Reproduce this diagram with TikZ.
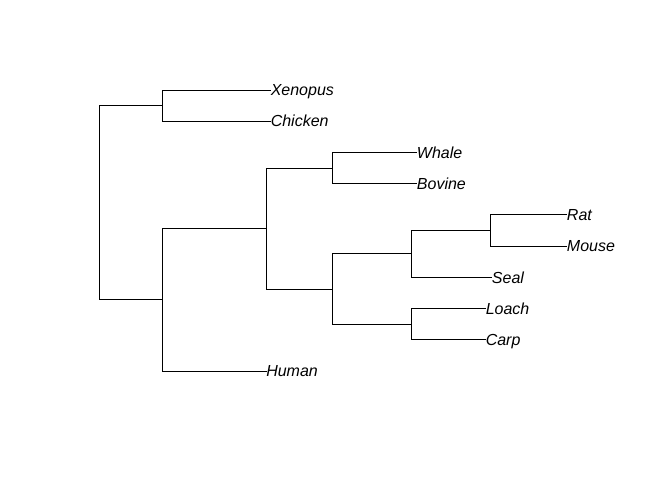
\documentclass[tikz,border=0pt]{standalone}
\usepackage{fontspec}
\setmainfont{Liberation Sans}
\begin{document}
\begin{tikzpicture}[x=0.75pt,y=-0.75pt,
  edge/.style={draw=black,line width=0.75pt,line cap=rect},
  tip/.style={anchor=west,inner sep=0pt,text height=8.6pt,text depth=0pt,font=\fontsize{12pt}{14pt}\selectfont\itshape}]
\useasboundingbox (0,0) rectangle (672,480);
% internal nodes
\coordinate (root) at (99,202.7);
\coordinate (A) at (162.7,105.6);
\coordinate (B) at (162.7,299.8);
\coordinate (C) at (266.7,228.6);
\coordinate (D) at (332.5,168.1);
\coordinate (E) at (332.5,289.0);
\coordinate (F) at (411.7,253.9);
\coordinate (G) at (490.7,230.5);
\coordinate (H) at (411.7,324.2);
% tips
\node[tip] (xen) at (270.5,90.0) {Xenopus};
\node[tip] (chi) at (270.5,121.2) {Chicken};
\node[tip] (wha) at (416.7,152.4) {Whale};
\node[tip] (bov) at (416.7,183.7) {Bovine};
\node[tip] (rat) at (566.7,214.9) {Rat};
\node[tip] (mou) at (566.7,246.1) {Mouse};
\node[tip] (sea) at (491.7,277.3) {Seal};
\node[tip] (loa) at (485.5,308.5) {Loach};
\node[tip] (car) at (485.5,339.8) {Carp};
\node[tip] (hum) at (266.0,371.0) {Human};
% edges
\draw[edge] (root) |- (A);
\draw[edge] (root) |- (B);
\draw[edge] (A) |- (xen.west);
\draw[edge] (A) |- (chi.west);
\draw[edge] (B) |- (C);
\draw[edge] (B) |- (hum.west);
\draw[edge] (C) |- (D);
\draw[edge] (C) |- (E);
\draw[edge] (D) |- (wha.west);
\draw[edge] (D) |- (bov.west);
\draw[edge] (E) |- (F);
\draw[edge] (E) |- (H);
\draw[edge] (F) |- (G);
\draw[edge] (F) |- (sea.west);
\draw[edge] (G) |- (rat.west);
\draw[edge] (G) |- (mou.west);
\draw[edge] (H) |- (loa.west);
\draw[edge] (H) |- (car.west);
\end{tikzpicture}
\end{document}
